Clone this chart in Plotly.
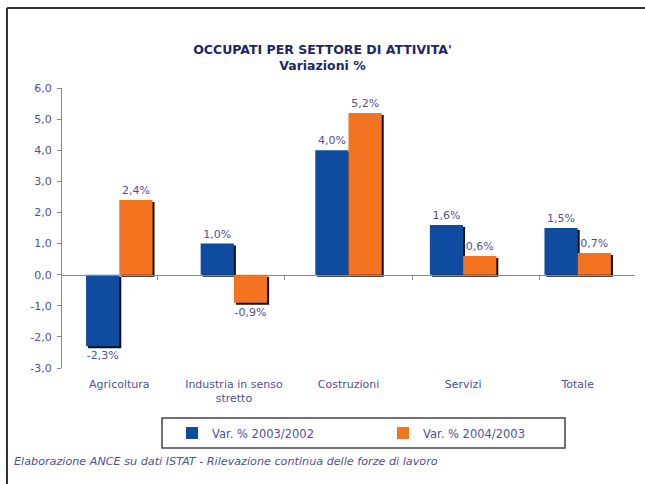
import plotly.graph_objects as go

categories = ["Agricoltura", "Industria in senso<br>stretto", "Costruzioni", "Servizi", "Totale"]
var_2003_2002 = [-2.3, 1.0, 4.0, 1.6, 1.5]
var_2004_2003 = [2.4, -0.9, 5.2, 0.6, 0.7]
series_names = ["Var. % 2003/2002", "Var. % 2004/2003"]
y_ticks = [-3, -2, -1, 0, 1, 2, 3, 4, 5, 6]

BLUE = "#0f4ba0"
ORANGE = "#f47321"
SLATE = "#4f4f96"
NAVY = "#1e2864"
AXIS = "#8a8a8a"
FONT = "DejaVu Sans"


def fmt(v):
    return f"{v:.1f}%".replace(".", ",")


def fmt_tick(v):
    return f"{v:.1f}".replace(".", ",")


W, H = 645, 484
S = 2  # shadow offset in px
ml, mr, mt, mb = 62, 10 - S, 88, 116 - S
pw, ph = W - ml - mr, H - mt - mb
ex, ey = S / pw, S / ph


def px_x(x):
    return (x - ml) / pw


def px_y(y):
    return (H - mb - y) / ph


fig = go.Figure()
series = [(series_names[0], var_2003_2002, BLUE), (series_names[1], var_2004_2003, ORANGE)]

# drop shadows (base subplot, shifted right/down)
for name, vals, col in series:
    fig.add_trace(go.Bar(
        x=categories, y=vals, name=name + " shadow", showlegend=False,
        marker=dict(color="#111111", line=dict(width=0)), hoverinfo="skip",
        xaxis="x", yaxis="y",
    ))

# main bars
for name, vals, col in series:
    fig.add_trace(go.Bar(
        x=categories, y=vals, name=name,
        marker=dict(color=col, line=dict(color=col, width=0)),
        text=[fmt(v) for v in vals], textposition="outside",
        textfont=dict(color=SLATE, size=11, family=FONT),
        cliponaxis=False, xaxis="x3", yaxis="y3",
    ))

# invisible trace carrying the category axis drawn at y=0
fig.add_trace(go.Scatter(x=categories, y=[None] * len(categories), xaxis="x2", yaxis="y3",
                         showlegend=False, hoverinfo="skip", mode="markers"))

zero_pos = ey + (1 - ey) * (0 - y_ticks[0]) / (y_ticks[-1] - y_ticks[0])

fig.update_layout(
    width=W, height=H,
    margin=dict(l=ml, r=mr, t=mt, b=mb),
    paper_bgcolor="white", plot_bgcolor="rgba(0,0,0,0)",
    barmode="group", bargap=0.42, bargroupgap=0,
    font=dict(family=FONT, color=SLATE, size=11),
    title=dict(
        text="<b>OCCUPATI PER SETTORE DI ATTIVITA'<br>Variazioni %</b>",
        x=0.5, xref="container", xanchor="center",
        y=1 - 54 / H, yref="container", yanchor="middle",
        font=dict(family=FONT, size=12.5, color=NAVY),
    ),
    # shadow axes
    xaxis=dict(type="category", categoryarray=categories, domain=[ex, 1], visible=False,
               anchor="y"),
    yaxis=dict(range=[y_ticks[0], y_ticks[-1]], domain=[0, 1 - ey], visible=False,
               anchor="x"),
    # main axes
    xaxis3=dict(
        type="category", categoryarray=categories, domain=[0, 1 - ex], anchor="y3",
        showline=False, ticks="", showgrid=False, zeroline=False,
        ticklabelstandoff=8,
        tickfont=dict(color=SLATE, size=11, family=FONT),
    ),
    yaxis3=dict(
        range=[y_ticks[0], y_ticks[-1]], domain=[ey, 1], anchor="x3",
        tickvals=y_ticks, ticktext=[fmt_tick(v) for v in y_ticks],
        showline=True, linecolor=AXIS, linewidth=1,
        ticks="outside", ticklen=4, tickcolor=AXIS,
        showgrid=False, zeroline=False, ticklabelstandoff=3,
        tickfont=dict(color=SLATE, size=11, family=FONT),
    ),
    xaxis2=dict(
        type="category", categoryarray=categories, overlaying="x3",
        anchor="free", position=zero_pos, side="bottom",
        showline=True, linecolor=AXIS, linewidth=1,
        ticks="outside", ticklen=4, tickcolor=AXIS, tickson="boundaries",
        showticklabels=False, showgrid=False, zeroline=False,
    ),
    legend=dict(
        orientation="h", x=px_x(172), xanchor="left",
        y=px_y(433), yanchor="middle",
        entrywidth=166, bgcolor="rgba(0,0,0,0)", borderwidth=0,
        font=dict(color=SLATE, size=11.5, family=FONT),
    ),
    showlegend=True,
)

# legend frame
fig.add_shape(type="rect", xref="paper", yref="paper",
              x0=px_x(162), x1=px_x(565), y0=px_y(448), y1=px_y(418),
              line=dict(color="#444444", width=1.5), fillcolor="rgba(0,0,0,0)")
# outer frame (top and left edges)
fig.add_shape(type="line", xref="paper", yref="paper",
              x0=px_x(7), x1=px_x(650), y0=px_y(8), y1=px_y(8),
              line=dict(color="#333333", width=2))
fig.add_shape(type="line", xref="paper", yref="paper",
              x0=px_x(7), x1=px_x(7), y0=px_y(8), y1=px_y(490),
              line=dict(color="#333333", width=2))

fig.add_annotation(
    text="<i>Elaborazione ANCE su dati ISTAT - Rilevazione continua delle forze di lavoro</i>",
    xref="paper", yref="paper", x=px_x(12), y=px_y(461),
    xanchor="left", yanchor="middle", showarrow=False,
    font=dict(color=SLATE, size=11.2, family=FONT),
)

fig.write_html("out.html", config={"displayModeBar": False},
               post_script="document.body.style.margin='0px';")
